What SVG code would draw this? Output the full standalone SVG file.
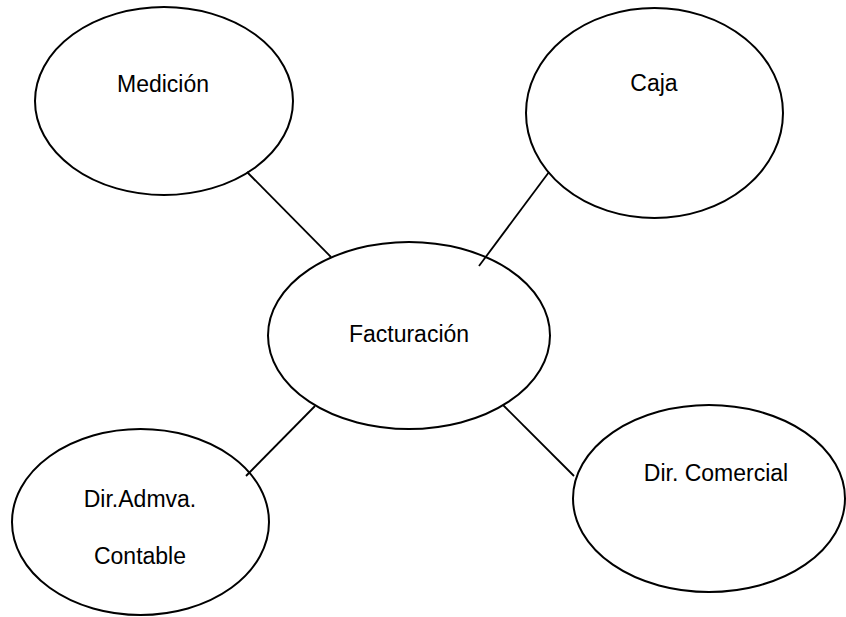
<svg xmlns="http://www.w3.org/2000/svg" width="846" height="617" viewBox="0 0 846 617">
<style>
.n{fill:#fff;stroke:#000;stroke-width:2}
.t{font-family:"Liberation Sans",Arial,sans-serif;font-size:23px;fill:#000;text-anchor:middle}
.c line{stroke:#000;stroke-width:1.8}
</style>
<rect width="846" height="617" fill="#fff"/>
<g id="medicion"><ellipse class="n" cx="164" cy="101" rx="129" ry="94"/><text class="t" x="163" y="92">Medición</text></g>
<g id="caja"><ellipse class="n" cx="654.5" cy="113" rx="128.5" ry="105"/><text class="t" x="654" y="91">Caja</text></g>
<g id="facturacion"><ellipse class="n" cx="409" cy="335.5" rx="141" ry="93.5"/><text class="t" x="409" y="342">Facturación</text></g>
<g id="diradmva"><ellipse class="n" cx="140.5" cy="522" rx="128.5" ry="93"/><text class="t" x="140" y="507">Dir.Admva.</text><text class="t" x="140" y="564">Contable</text></g>
<g id="dircomercial"><ellipse class="n" cx="709" cy="498.5" rx="136" ry="93.5"/><text class="t" x="716" y="481">Dir. Comercial</text></g>
<g id="connectors" class="c">
<line x1="247" y1="172" x2="331" y2="257"/>
<line x1="549" y1="172" x2="479" y2="266"/>
<line x1="315" y1="406" x2="246" y2="476"/>
<line x1="503" y1="405" x2="574" y2="476"/>
</g>
</svg>
